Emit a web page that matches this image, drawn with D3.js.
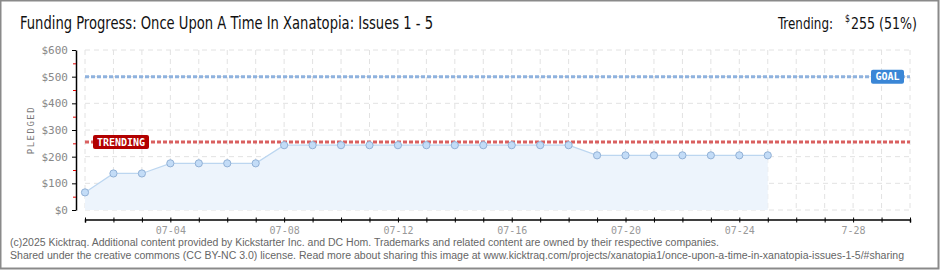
<!DOCTYPE html>
<html>
<head>
<meta charset="utf-8">
<script src="https://cdn.jsdelivr.net/npm/d3@7"></script>
<style>
  body { margin: 0; background: #fff; }
  svg { display: block; }
</style>
</head>
<body>
<svg width="940" height="270"></svg>
<script>
// The data:
const days = ['07-01','07-02','07-03','07-04','07-05','07-06','07-07','07-08','07-09','07-10','07-11','07-12','07-13',
  '07-14','07-15','07-16','07-17','07-18','07-19','07-20','07-21','07-22','07-23','07-24','07-25']
const pledged = [66,137,137,175,175,175,175,243,243,243,243,243,243,243,243,243,243,243,205,205,205,205,205,205,205]
const goal = 500
const trending = 255
const tickLabels = { '07-04': '07-04', '07-08': '07-08', '07-12': '07-12', '07-16': '07-16', '07-20': '07-20', '07-24': '07-24', '07-28': '7-28' }

const parse = d3.timeParse('%Y-%m-%d')
const toDate = (s) => parse('2025-' + s)
const fmt = d3.timeFormat('%m-%d')

const svg = d3.select('svg')

// frame
svg.append('rect').attr('x', 0.5).attr('y', 0.5).attr('width', 938).attr('height', 268)
  .attr('fill', '#fff').attr('stroke', '#8a8a8a').attr('stroke-width', 2)

// scales
const xScale = d3.scaleTime().domain([toDate('07-01'), toDate('07-30')]).range([85, 910])
const yScale = d3.scaleLinear().domain([0, 600]).range([210, 50])

// grid
const dayTicks = d3.timeDay.range(toDate('07-01'), d3.timeDay.offset(toDate('07-30'), 1))
svg.append('g').selectAll('line').data(dayTicks).enter().append('line')
  .attr('x1', (d) => xScale(d)).attr('x2', (d) => xScale(d))
  .attr('y1', yScale(600)).attr('y2', yScale(0))
  .attr('stroke', '#e2e2e2').attr('stroke-dasharray', '5,4')
svg.append('g').selectAll('line').data(d3.range(0, 700, 100)).enter().append('line')
  .attr('x1', 85).attr('x2', 910)
  .attr('y1', (d) => yScale(d)).attr('y2', (d) => yScale(d))
  .attr('stroke', '#e2e2e2').attr('stroke-dasharray', '5,4')

// area + line
const pts = days.map((d, i) => ({ date: toDate(d), v: pledged[i] }))
svg.append('path').datum(pts)
  .attr('d', d3.area().x((d) => xScale(d.date)).y0(yScale(0)).y1((d) => yScale(d.v)))
  .attr('fill', '#edf4fc')
svg.append('path').datum(pts)
  .attr('d', d3.line().x((d) => xScale(d.date)).y((d) => yScale(d.v)))
  .attr('fill', 'none').attr('stroke', '#bcd6f0').attr('stroke-width', 1.2)

// goal and trending lines
svg.append('line').attr('x1', 85).attr('x2', 910)
  .attr('y1', yScale(goal)).attr('y2', yScale(goal))
  .attr('stroke', '#8fb2de').attr('stroke-width', 3).attr('stroke-dasharray', '4,2')
svg.append('line').attr('x1', 85).attr('x2', 910)
  .attr('y1', yScale(trending)).attr('y2', yScale(trending))
  .attr('stroke', '#d96060').attr('stroke-width', 3).attr('stroke-dasharray', '4,2')

// points
svg.append('g').selectAll('circle').data(pts).enter().append('circle')
  .attr('cx', (d) => xScale(d.date)).attr('cy', (d) => yScale(d.v)).attr('r', 3.6)
  .attr('fill', '#c3dcf7').attr('stroke', '#92b1d6').attr('stroke-width', 1)

// labels on lines
const tag = (x, y, w, fill, text) => {
  svg.append('rect').attr('x', x).attr('y', y - 7).attr('width', w).attr('height', 14)
    .attr('rx', 2).attr('fill', fill)
  svg.append('text').attr('x', x + w / 2).attr('y', y + 3.5).attr('text-anchor', 'middle')
    .attr('fill', '#fff').attr('font-family', 'DejaVu Sans Mono').attr('font-size', 10)
    .attr('font-weight', 'bold').text(text)
}
tag(871, yScale(goal), 33, '#3a86d6', 'GOAL')
tag(93, yScale(trending), 56, '#b20000', 'TRENDING')

// x-axis
const xAxis = d3.axisBottom(xScale).tickValues(dayTicks).tickSizeOuter(0).tickSize(3)
  .tickFormat((d) => tickLabels[fmt(d)] || '')
const xg = svg.append('g').attr('transform', 'translate(0,219.5)').call(xAxis)
xg.select('.domain').attr('stroke', '#000').attr('stroke-width', 1.5)
xg.selectAll('.tick line').attr('y1', -2).attr('y2', 3).attr('stroke', '#000')
xg.selectAll('.tick text').attr('y', 7).attr('fill', '#999')
  .attr('font-family', 'DejaVu Sans Mono').attr('font-size', 10)

// y-axis
const yAxis = d3.axisLeft(yScale).tickValues(d3.range(0, 700, 100)).tickSize(4).tickSizeOuter(0)
  .tickFormat((d) => '$' + d)
const yg = svg.append('g').attr('transform', 'translate(76,0)').call(yAxis)
yg.select('.domain').attr('stroke', '#000').attr('stroke-width', 1.5)
yg.selectAll('.tick line').attr('stroke', '#000')
yg.selectAll('.tick text').attr('x', -8).attr('fill', '#888')
  .attr('font-family', 'DejaVu Sans Mono').attr('font-size', 11)
const minorAxis = d3.axisLeft(yScale).tickValues(d3.range(50, 600, 100)).tickSize(3).tickFormat('')
const mg = svg.append('g').attr('transform', 'translate(76,0)').call(minorAxis)
mg.select('.domain').remove()
mg.selectAll('.tick line').attr('stroke', '#e00000')

svg.append('text').attr('transform', 'translate(34,130) rotate(-90)')
  .attr('text-anchor', 'middle').attr('fill', '#777')
  .attr('font-family', 'DejaVu Sans Mono').attr('font-size', 9).attr('letter-spacing', 1.5)
  .text('PLEDGED')

// title
svg.append('text').attr('x', 20).attr('y', 29)
  .attr('font-family', 'DejaVu Sans Condensed, DejaVu Sans').attr('font-stretch', 'condensed')
  .attr('font-size', 17).attr('fill', '#111')
  .attr('textLength', 413).attr('lengthAdjust', 'spacingAndGlyphs')
  .text('Funding Progress: Once Upon A Time In Xanatopia: Issues 1 - 5')

// trending summary
const head = (x, w, size, y, s) => svg.append('text').attr('x', x).attr('y', y)
  .attr('font-family', 'DejaVu Sans Condensed, DejaVu Sans').attr('font-stretch', 'condensed')
  .attr('font-size', size).attr('fill', '#111')
  .attr('textLength', w).attr('lengthAdjust', 'spacingAndGlyphs').text(s)
head(778, 55, 16, 29, 'Trending:')
head(845, 5, 10, 22, '$')
head(851, 66, 16, 29, trending + ' (' + Math.round(trending / goal * 100) + '%)')

// footer
svg.append('text').attr('x', 10).attr('y', 246)
  .attr('font-family', 'Liberation Sans').attr('font-size', 10).attr('fill', '#666')
  .attr('textLength', 709).attr('lengthAdjust', 'spacingAndGlyphs')
  .text('(c)2025 Kicktraq. Additional content provided by Kickstarter Inc. and DC Hom. Trademarks and related content are owned by their respective companies.')
svg.append('text').attr('x', 10).attr('y', 259)
  .attr('font-family', 'Liberation Sans').attr('font-size', 10).attr('fill', '#666')
  .attr('textLength', 894).attr('lengthAdjust', 'spacingAndGlyphs')
  .text('Shared under the creative commons (CC BY-NC 3.0) license. Read more about sharing this image at www.kicktraq.com/projects/xanatopia1/once-upon-a-time-in-xanatopia-issues-1-5/#sharing')
</script>
</body>
</html>
